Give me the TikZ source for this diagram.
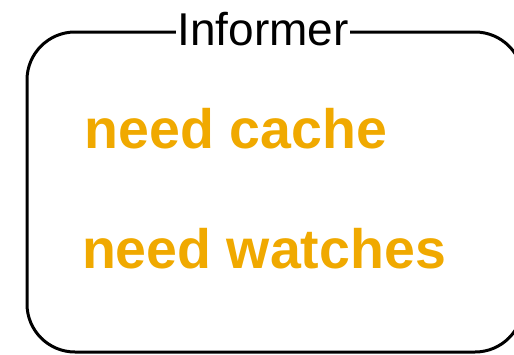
\documentclass[tikz,border=0pt]{standalone}
\usepackage{fontspec}
\setmainfont{Liberation Sans}
\definecolor{needorange}{RGB}{240,169,0}
\begin{document}
\begin{tikzpicture}[x=1pt,y=-1pt,
  frame/.style={draw=black,line width=3pt,rounded corners=48pt},
  titletext/.style={fill=white,inner xsep=1.5pt,inner ysep=1pt,anchor=base,font=\fontsize{46}{50}\selectfont},
  needtext/.style={text=needorange,anchor=base,font=\fontsize{55.5}{60}\selectfont\bfseries}]
\useasboundingbox (0,0) rectangle (514,354);
\clip (0,0) rectangle (514,354);
\draw[frame] (27,32) rectangle (523,352);
\node[titletext] (title) at (263,45) {Informer};
\node[needtext] (cache) at (236,148) {need cache};
\node[needtext] (watches) at (264,268) {need watches};
\end{tikzpicture}
\end{document}
